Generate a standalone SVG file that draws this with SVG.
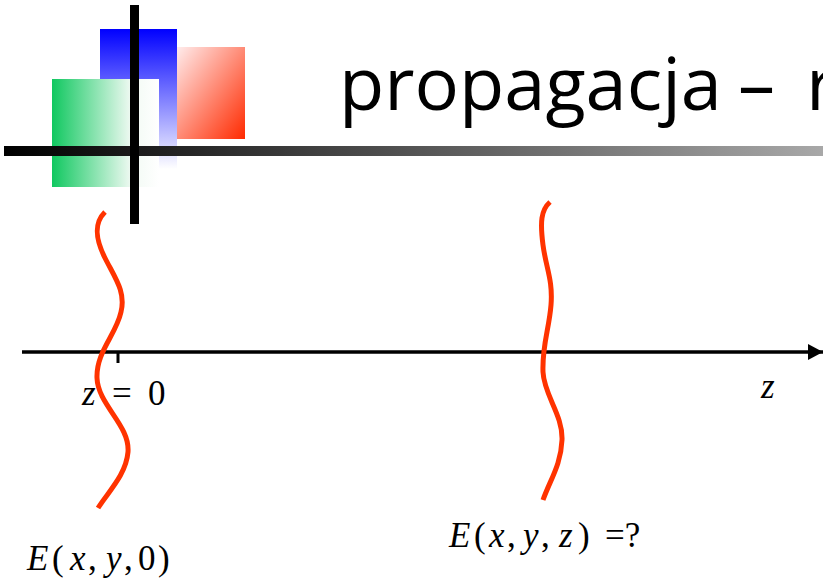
<svg xmlns="http://www.w3.org/2000/svg" width="823" height="582" viewBox="0 0 823 582">
<defs>
<linearGradient id="gBlue" x1="0" y1="0" x2="0" y2="1"><stop offset="0" stop-color="#0000ff"/><stop offset="1" stop-color="#ffffff"/></linearGradient>
<linearGradient id="gRed" x1="0" y1="0" x2="1" y2="1"><stop offset="0" stop-color="#ffecec"/><stop offset="1" stop-color="#ff2a00"/></linearGradient>
<linearGradient id="gGreen" x1="0" y1="0" x2="1" y2="0"><stop offset="0" stop-color="#10c860"/><stop offset="0.75" stop-color="#f2faf4"/><stop offset="1" stop-color="#ffffff"/></linearGradient>
<linearGradient id="gBar" x1="0" y1="0" x2="1" y2="0"><stop offset="0" stop-color="#000000"/><stop offset="1" stop-color="#a8a8a8"/></linearGradient>
<marker id="arr" markerWidth="15" markerHeight="16" refX="15" refY="8" orient="auto" markerUnits="userSpaceOnUse"><path d="M0,0 L15,8 L0,16 z" fill="#000"/></marker>
<style>
.wave{fill:none;stroke:#ff3300;stroke-width:5;stroke-linecap:butt}
.math{font-family:"Liberation Serif","DejaVu Serif",serif;font-size:35px;fill:#000}
.it{font-style:italic}
.title{font-family:"Open Sans","Liberation Sans",sans-serif;font-size:74px;fill:#000}
</style>
</defs>
<g id="logo">
<rect x="100" y="29" width="77" height="140" fill="url(#gBlue)"/>
<rect x="177" y="47" width="68" height="92" fill="url(#gRed)"/>
<rect x="52" y="79" width="107" height="108" fill="url(#gGreen)"/>
<rect x="4" y="146" width="819" height="10" fill="url(#gBar)"/>
<rect x="130" y="5" width="9" height="219" fill="#000"/>
</g>
<g id="title"><text class="title" x="339" y="110">propagacja<tspan x="738">–</tspan><tspan x="806">r</tspan></text></g>
<g id="connectors">
<line x1="22" y1="352" x2="823" y2="352" stroke="#000" stroke-width="3.5" marker-end="url(#arr)"/>
<line x1="118" y1="352" x2="118" y2="363" stroke="#000" stroke-width="3"/>
</g>
<g id="wave0"><path class="wave" d="M105,212 C93,224 96,240 105,258 C115,278 126,292 121,312 C116,335 96,352 97,378 C98,405 130,425 128,452 C126,475 108,492 98,508"/></g>
<g id="waveZ"><path class="wave" d="M550,202 C541,210 540,222 543,245 C546,268 553,280 551,305 C549,330 542,345 543,372 C544,395 563,415 562,440 C561,465 550,480 543,500"/></g>
<g id="labels">
<text class="math" x="82" y="405"><tspan class="it">z</tspan><tspan x="112">=</tspan><tspan x="148">0</tspan></text>
<text class="math it" x="761" y="398">z</text>
<text class="math" x="27" y="570"><tspan class="it">E</tspan><tspan x="52">(</tspan><tspan class="it" x="70">x</tspan><tspan x="88">,</tspan><tspan class="it" x="106">y</tspan><tspan x="124">,</tspan><tspan x="138">0</tspan><tspan x="158">)</tspan></text>
<text class="math" x="449" y="547"><tspan class="it">E</tspan><tspan x="474">(</tspan><tspan class="it" x="489">x</tspan><tspan x="507">,</tspan><tspan class="it" x="523">y</tspan><tspan x="541">,</tspan><tspan class="it" x="559">z</tspan><tspan x="578">)</tspan><tspan x="605">=?</tspan></text>
</g>
</svg>
